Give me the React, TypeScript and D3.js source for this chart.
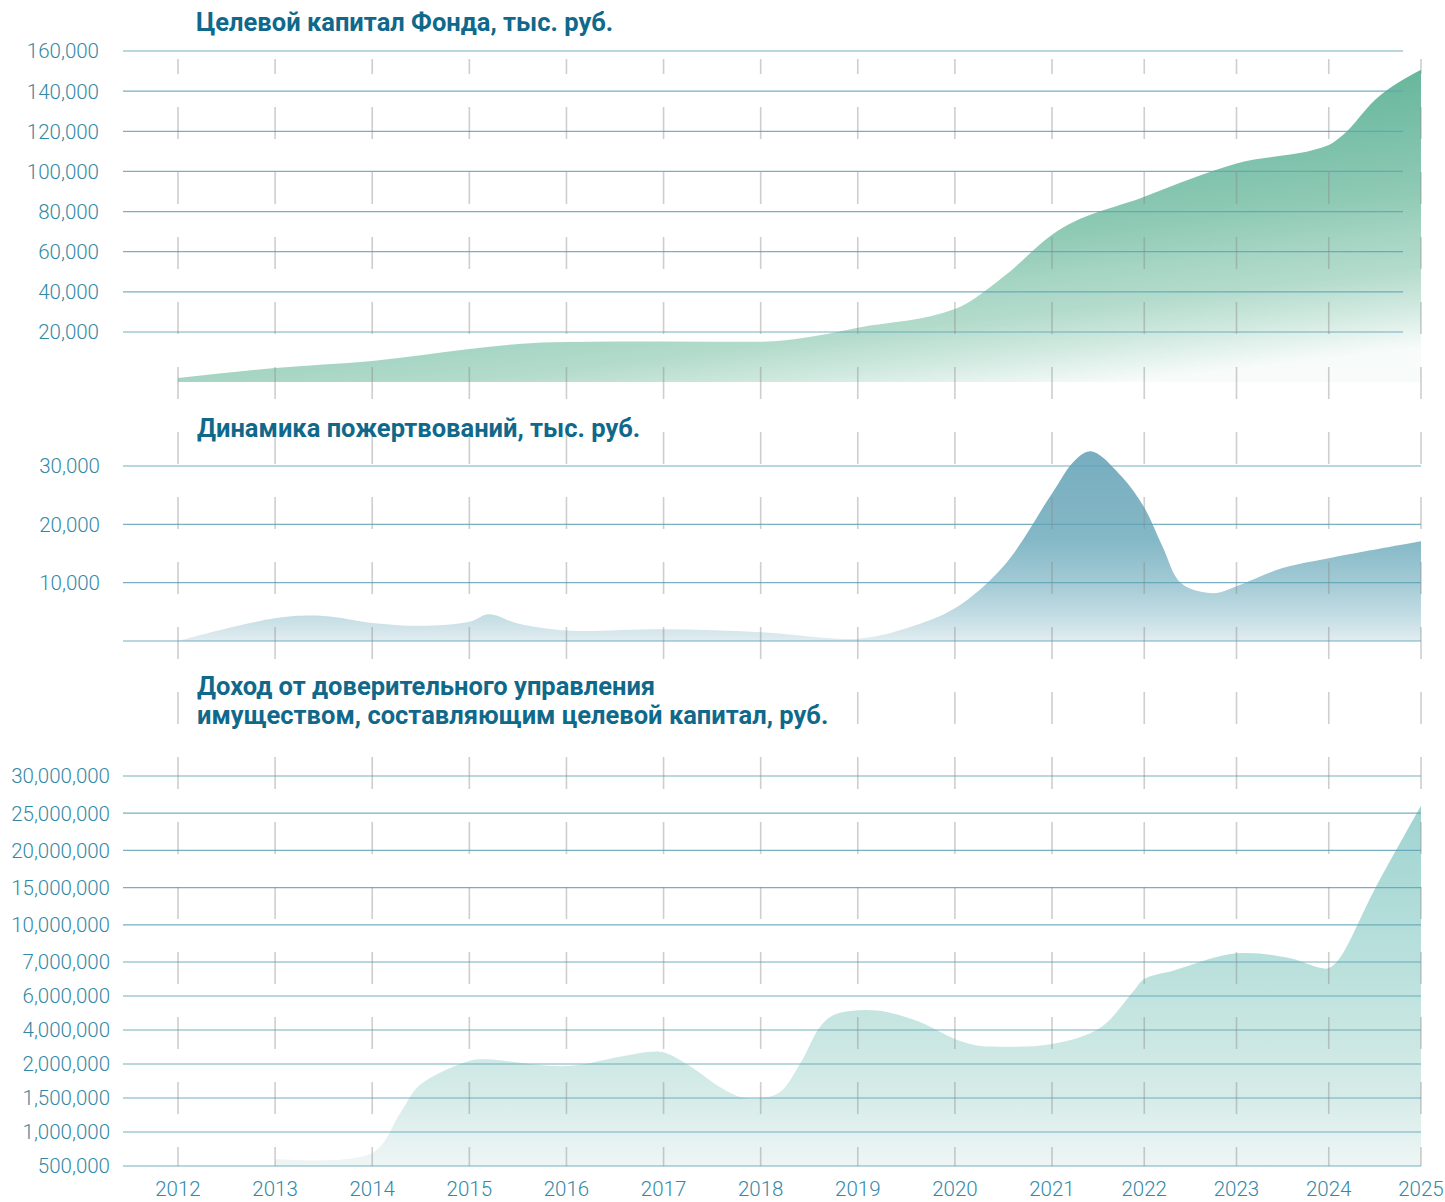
import React from "react";
import * as d3 from "d3";

// years on the shared horizontal axis
const years = [2012, 2013, 2014, 2015, 2016, 2017, 2018, 2019, 2020, 2021, 2022, 2023, 2024, 2025];
const yearLabels = ["2012", "2013", "2014", "2015", "2016", "2017", "2018", "2019", "2020", "2021", "2022", "2023", "2024", "2025"];

// panel 1: target capital, thousand rub
const capitalTitle = "Целевой капитал Фонда, тыс. руб.";
const capitalTicks = [20000, 40000, 60000, 80000, 100000, 120000, 140000, 160000];
const capitalPeriods = [2012, 2013, 2014, 2015, 2015.5, 2016, 2017, 2018, 2018.5, 2019, 2020, 2020.5, 2021, 2022, 2023, 2024, 2024.15, 2024.5, 2025];
const capitalValues = [1600, 5600, 8400, 13200, 15200, 16000, 16200, 16100, 18000, 22100, 31400, 47500, 68500, 87400, 104000, 113200, 118000, 135600, 150700];

// panel 2: donations, thousand rub
const donationTitle = "Динамика пожертвований, тыс. руб.";
const donationTicks = [0, 10000, 20000, 30000];
const donationPeriods = [2012, 2013, 2013.5, 2014, 2014.5, 2015, 2015.2, 2015.5, 2016, 2017, 2018, 2019, 2019.5, 2020, 2020.5, 2021, 2021.25, 2021.43, 2021.75, 2022, 2022.2, 2022.4, 2022.75, 2023, 2023.5, 2024, 2025];
const donationValues = [0, 3900, 4300, 3100, 2600, 3300, 4600, 3000, 1800, 2000, 1500, 400, 2200, 5600, 12800, 25300, 31000, 32500, 28300, 22900, 16100, 9900, 8200, 9400, 12500, 14200, 17100];

// panel 3: trust management income, rub
const incomeTitle = ["Доход от доверительного управления", "имуществом, составляющим целевой капитал, руб."];
const incomeTicks = [500000, 1000000, 1500000, 2000000, 4000000, 6000000, 7000000, 10000000, 15000000, 20000000, 25000000, 30000000];
const incomePeriods = [2013, 2014, 2014.29, 2014.49, 2015, 2015.16, 2016, 2016.55, 2016.86, 2017, 2017.27, 2017.58, 2017.8, 2018, 2018.2, 2018.41, 2018.61, 2018.75, 2018.93, 2019.1, 2019.3, 2019.64, 2019.85, 2020, 2020.2, 2020.47, 2021, 2021.52, 2021.88, 2022, 2022.33, 2023, 2023.58, 2023.9, 2024, 2024.12, 2024.5, 2025];
const incomeValues = [603000, 691000, 1280000, 1690000, 2180000, 2280000, 1970000, 2430000, 2720000, 2690000, 1970000, 1660000, 1510000, 1500000, 1590000, 2060000, 4180000, 4880000, 5120000, 5180000, 5060000, 4470000, 3880000, 3470000, 3120000, 3020000, 3180000, 4120000, 6130000, 6500000, 6760000, 7700000, 7300000, 6830000, 6820000, 7320000, 14800000, 26000000];

const W = 1445;
const H = 1202;
const gridLeft = 123;
const tickColor = "#3389a5";
const titleColor = "#10698a";
const gridColor = "#5fa3b7";
const fmt = d3.format(",");

const x = d3.scaleLinear().domain([2012, 2021, 2025]).range([178, 1052, 1421]);

const yCapital = d3.scaleLinear().domain([0, 20000, 160000]).range([382, 332, 51]);
const yDonation = d3.scaleLinear().domain([0, 30000]).range([641, 466]);

const incomeBottom = 1166;
const incomeTop = 776;
const lowerStep = 34;
const incomeRange = incomeTicks.map((_, i) => {
  if (i <= 6) return incomeBottom - i * lowerStep;
  const y7 = incomeBottom - 6 * lowerStep;
  return y7 - ((i - 6) * (y7 - incomeTop)) / (incomeTicks.length - 7);
});
const yIncome = d3.scaleLinear().domain(incomeTicks).range(incomeRange);

const zip = (a: number[], b: number[]) => a.map((v, i) => [v, b[i]] as [number, number]);

const makeArea = (y: d3.ScaleLinear<number, number>, base: number, curve: d3.CurveFactory) =>
  d3
    .area<[number, number]>()
    .x((d) => x(d[0]))
    .y0(y(base))
    .y1((d) => y(d[1]))
    .curve(curve);

const capitalPath = makeArea(yCapital, 0, d3.curveMonotoneX)(zip(capitalPeriods, capitalValues)) || "";
const donationPath = makeArea(yDonation, 0, d3.curveCatmullRom.alpha(0.5))(zip(donationPeriods, donationValues)) || "";
const incomePath = makeArea(yIncome, 500000, d3.curveCatmullRom.alpha(0.5))(zip(incomePeriods, incomeValues)) || "";

const Grid = ({ ticks, y, x2, labelX, hideZero }: any) => (
  <g>
    {ticks.map((t: number) => (
      <g key={t}>
        <line x1={gridLeft} x2={x2} y1={y(t)} y2={y(t)} stroke={gridColor} strokeWidth={1.2} opacity={0.85} />
        {!(hideZero && t === 0) && (
          <text x={labelX} y={y(t)} dy="0.36em" textAnchor="end" fill={tickColor} fontSize={20.5} fontWeight={300}>
            {fmt(t)}
          </text>
        )}
      </g>
    ))}
  </g>
);

export default function App() {
  return (
    <svg
      width={W}
      height={H}
      style={{ position: "absolute", left: 0, top: 0, background: "#fff" }}
      fontFamily="Roboto, 'Noto Sans', sans-serif"
    >
      <defs>
        <linearGradient id="gCapital" gradientUnits="userSpaceOnUse" x1={1421} y1={65} x2={1454} y2={343}>
          <stop offset="0" stopColor="#66b69c" />
          <stop offset="0.45" stopColor="#8fcab5" />
          <stop offset="0.6" stopColor="#a6d5c4" />
          <stop offset="0.72" stopColor="#b3dbcc" />
          <stop offset="0.86" stopColor="#d2eae1" />
          <stop offset="1" stopColor="#f7fbf9" />
        </linearGradient>
        <linearGradient id="gDonation" gradientUnits="userSpaceOnUse" x1={0} y1={451} x2={0} y2={641}>
          <stop offset="0" stopColor="#77adbf" />
          <stop offset="0.47" stopColor="#85b8c6" />
          <stop offset="0.69" stopColor="#a2cad5" />
          <stop offset="0.89" stopColor="#c8dfe6" />
          <stop offset="1" stopColor="#e1edf1" />
        </linearGradient>
        <linearGradient id="gIncome" gradientUnits="userSpaceOnUse" x1={0} y1={805} x2={0} y2={1166}>
          <stop offset="0" stopColor="#9fd4d1" />
          <stop offset="0.47" stopColor="#bce1dd" />
          <stop offset="0.68" stopColor="#cde8e4" />
          <stop offset="0.82" stopColor="#d7ece9" />
          <stop offset="1" stopColor="#eef6f5" />
        </linearGradient>
      </defs>

      {/* areas */}
      <path d={capitalPath} fill="url(#gCapital)" />
      <path d={donationPath} fill="url(#gDonation)" />
      <path d={incomePath} fill="url(#gIncome)" />

      {/* horizontal grid + value labels */}
      <Grid ticks={capitalTicks} y={yCapital} x2={1403} labelX={99} />
      <Grid ticks={donationTicks} y={yDonation} x2={1421} labelX={100} hideZero />
      <Grid ticks={incomeTicks} y={yIncome} x2={1421} labelX={110} />

      {/* dashed year lines */}
      {years.map((yr) => (
        <line
          key={yr}
          x1={x(yr)}
          x2={x(yr)}
          y1={59}
          y2={1166}
          stroke="#8a8a8a"
          strokeOpacity={0.42}
          strokeWidth={1.6}
          strokeDasharray="32 33"
          strokeDashoffset={17}
        />
      ))}

      {/* titles */}
      <text x={196} y={31} fill={titleColor} fontSize={25.5} fontWeight={700}>
        {capitalTitle}
      </text>
      <text x={197} y={437} fill={titleColor} fontSize={25.5} fontWeight={700}>
        {donationTitle}
      </text>
      <rect x={190} y={670} width={645} height={62} fill="#fff" />
      {incomeTitle.map((line, i) => (
        <text key={i} x={197} y={695 + i * 29} fill={titleColor} fontSize={25.5} fontWeight={700}>
          {line}
        </text>
      ))}

      {/* year labels */}
      {years.map((yr, i) => (
        <text key={yr} x={x(yr)} y={1196} textAnchor="middle" fill={tickColor} fontSize={20.5} fontWeight={300}>
          {yearLabels[i]}
        </text>
      ))}
    </svg>
  );
}
